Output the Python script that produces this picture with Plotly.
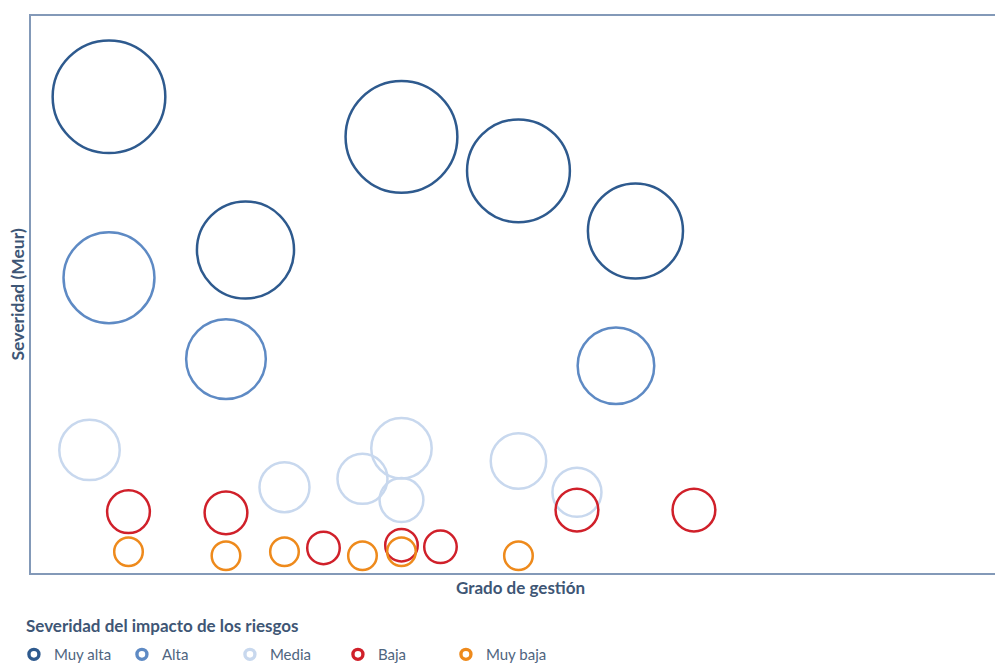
import plotly.graph_objects as go

# Risk map: management level (x) vs. severity in Meur (y); bubble area = impact
muy_alta_x = [4, 19, 25, 31, 11]
muy_alta_y = [85.5, 78.3, 72.2, 61.4, 58.0]
muy_alta_imp = [132, 130, 110, 94, 98]

alta_x = [4, 10, 30]
alta_y = [53.0, 38.4, 37.2]
alta_imp = [86, 66, 61]

media_x = [3, 19, 13, 17, 25, 28, 19]
media_y = [22.1, 22.4, 15.4, 16.9, 20.1, 14.5, 13.1]
media_imp = [38, 38, 26, 26, 32, 25, 20]

baja_x = [5, 10, 15, 19, 21, 28, 34]
baja_y = [11.0, 10.8, 4.5, 5.0, 4.7, 11.3, 11.3]
baja_imp = [19, 19, 11, 11, 11, 19, 19]

muy_baja_x = [5, 10, 13, 17, 19, 25]
muy_baja_y = [3.8, 3.1, 3.8, 3.1, 3.8, 3.1]
muy_baja_imp = [8.5, 8.5, 8.5, 8.5, 8.5, 8.5]

series = [
    ("Muy alta", muy_alta_x, muy_alta_y, muy_alta_imp, "#2E5A8E"),
    ("Alta", alta_x, alta_y, alta_imp, "#5E8AC4"),
    ("Media", media_x, media_y, media_imp, "#C8D8EE"),
    ("Baja", baja_x, baja_y, baja_imp, "#D0202A"),
    ("Muy baja", muy_baja_x, muy_baja_y, muy_baja_imp, "#EE8A1C"),
]

FONT = "Lato, 'Open Sans', sans-serif"
TEXT = "#3E5675"
AXIS = "#8399B8"

fig = go.Figure()
for name, xs, ys, imp, col in series:
    fig.add_trace(go.Scatter(
        x=xs, y=ys, mode="markers", name=name, legendgroup=name,
        showlegend=False,
        marker=dict(
            size=imp, sizemode="area", sizeref=0.0208,
            color="rgba(0,0,0,0)", opacity=1,
            line=dict(color=col, width=2.5),
            symbol="circle",
        ),
        hoverinfo="skip",
    ))

# legend keys: small thick rings, one per severity class
for name, _, _, _, col in series:
    fig.add_trace(go.Scatter(
        x=[None], y=[None], mode="markers", name=name, legendgroup=name,
        marker=dict(size=10, color="rgba(0,0,0,0)", opacity=1,
                    line=dict(color=col, width=3.4), symbol="circle"),
    ))

fig.update_layout(
    width=995, height=664,
    margin=dict(l=31, r=0, t=16, b=91),
    paper_bgcolor="white", plot_bgcolor="white",
    font=dict(family=FONT, color=TEXT),
    showlegend=True,
    legend=dict(
        orientation="h",
        xref="container", yref="container",
        x=0.014, y=0.039, xanchor="left", yanchor="top",
        font=dict(size=15, color="#4F6580"),
        itemsizing="trace",
        entrywidth=63,
        tracegroupgap=0,
    ),
    xaxis=dict(range=[0, 49.44], showline=True, linecolor=AXIS, linewidth=2,
               mirror=True, showgrid=False, zeroline=False,
               showticklabels=False, ticks=""),
    yaxis=dict(range=[0, 100], showline=True, linecolor=AXIS, linewidth=2,
               mirror=False, showgrid=False, zeroline=False,
               showticklabels=False, ticks=""),
    annotations=[
        dict(text="<b>Grado de gestión</b>", xref="paper", yref="paper",
             x=0.508, y=0, xanchor="center", yanchor="top", yshift=-2,
             showarrow=False, font=dict(size=17, color=TEXT)),
        dict(text="<b>Severidad (Meur)</b>", xref="paper", yref="paper",
             x=-0.0145, y=0.5, xanchor="center", yanchor="middle",
             textangle=-90, showarrow=False, font=dict(size=17.5, color=TEXT)),
        dict(text="<b>Severidad del impacto de los riesgos</b>",
             xref="paper", yref="paper", x=-0.007, y=0, xanchor="left",
             yanchor="middle", yshift=-52, showarrow=False,
             font=dict(size=17, color=TEXT)),
    ],
)

fig.write_html("out.html")
